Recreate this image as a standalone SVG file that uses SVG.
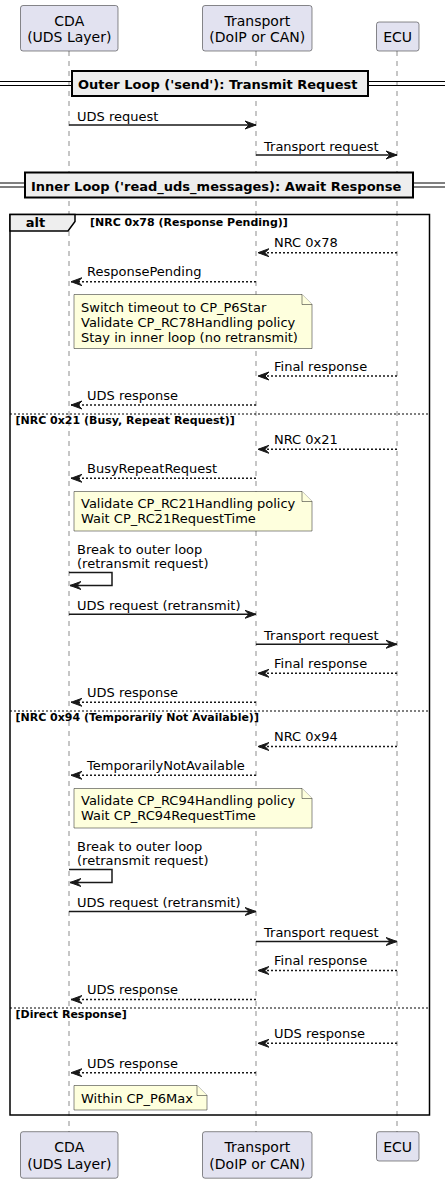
<svg xmlns="http://www.w3.org/2000/svg" width="445" height="1183" viewBox="0 0 445 1183">
<style>
text{font-family:"DejaVu Sans",Verdana,sans-serif;fill:#000}
.t14{font-size:14px}
.t13{font-size:13px}
.b13{font-size:13px;font-weight:bold}
.b11{font-size:11px;font-weight:bold}
.part{fill:#E2E2F0;stroke:#181818;stroke-width:0.5}
.life{stroke:#181818;stroke-width:0.5;stroke-dasharray:5,5;fill:none}
.msg{stroke:#181818;stroke-width:1.5;fill:none;marker-end:url(#ah)}
.dot{stroke-dasharray:2,2}
.note{fill:#FEFFDD;stroke:#181818;stroke-width:0.5}
.div{fill:#EEEEEE;stroke:#000;stroke-width:2}
.dline{stroke:#000;stroke-width:1;fill:none}
.frame{fill:none;stroke:#000;stroke-width:1.5}
.tab{fill:#EEEEEE;stroke:#000;stroke-width:1.5}
.sep{stroke:#000;stroke-width:1;stroke-dasharray:2,2;fill:none}
</style>
<defs>
<marker id="ah" viewBox="0 0 12 10" refX="11" refY="5" markerWidth="12" markerHeight="10" markerUnits="userSpaceOnUse" orient="auto">
<path d="M0,1 L11,5 L0,9 L4,5 Z" fill="#181818" stroke="#181818" stroke-width="1"/>
</marker>
</defs>
<rect width="445" height="1183" fill="#FFFFFF"/>
<g id="lifelines">
<line class="life" x1="69" y1="51" x2="69" y2="1132"/>
<line class="life" x1="256" y1="51" x2="256" y2="1132"/>
<line class="life" x1="397" y1="51" x2="397" y2="1132"/>
</g>
<g id="p-cda-top"><rect class="part" x="20.5" y="5.5" width="97.5" height="45.5" rx="2.5"/><text class="t14" x="69.3" y="25.5" text-anchor="middle">CDA</text><text class="t14" x="69.3" y="41.8" text-anchor="middle">(UDS Layer)</text></g>
<g id="p-transport-top"><rect class="part" x="202.5" y="5.5" width="109.5" height="45.5" rx="2.5"/><text class="t14" x="257.3" y="25.5" text-anchor="middle">Transport</text><text class="t14" x="257.3" y="41.8" text-anchor="middle">(DoIP or CAN)</text></g>
<g id="p-ecu-top"><rect class="part" x="376.5" y="22" width="42.5" height="29" rx="2.5"/><text class="t14" x="397.7" y="42" text-anchor="middle">ECU</text></g>
<g id="p-cda-bottom"><rect class="part" x="20.5" y="1131.7" width="97.5" height="46.5" rx="2.5"/><text class="t14" x="69.3" y="1152.3" text-anchor="middle">CDA</text><text class="t14" x="69.3" y="1168.5" text-anchor="middle">(UDS Layer)</text></g>
<g id="p-transport-bottom"><rect class="part" x="202.5" y="1131.7" width="109.5" height="46.5" rx="2.5"/><text class="t14" x="257.3" y="1152.3" text-anchor="middle">Transport</text><text class="t14" x="257.3" y="1168.5" text-anchor="middle">(DoIP or CAN)</text></g>
<g id="p-ecu-bottom"><rect class="part" x="376.5" y="1131.7" width="42.5" height="29.3" rx="2.5"/><text class="t14" x="397.7" y="1152" text-anchor="middle">ECU</text></g>
<g id="divider-outer">
<line class="dline" x1="0" y1="81.5" x2="445" y2="81.5"/>
<line class="dline" x1="0" y1="85.5" x2="445" y2="85.5"/>
<rect class="div" x="72" y="71" width="296" height="25"/>
<text class="b13" x="78" y="88.5">Outer Loop ('send'): Transmit Request</text>
</g>
<g id="divider-inner">
<line class="dline" x1="0" y1="183" x2="445" y2="183"/>
<line class="dline" x1="0" y1="187" x2="445" y2="187"/>
<rect class="div" x="25" y="172.5" width="388" height="25"/>
<text class="b13" x="31" y="190.5">Inner Loop ('read_uds_messages): Await Response</text>
</g>
<g id="alt-frame">
<rect class="frame" x="10" y="214.5" width="419.5" height="900.5"/>
<path class="tab" d="M10,214.5 H75 V221.5 L68,231 H10 Z"/>
<text class="b13" x="25.7" y="226.5">alt</text>
<text class="b11" x="90" y="226">[NRC 0x78 (Response Pending)]</text>
<line class="sep" x1="10" y1="414" x2="429.5" y2="414"/>
<text class="b11" x="15.5" y="424">[NRC 0x21 (Busy, Repeat Request)]</text>
<line class="sep" x1="10" y1="711" x2="429.5" y2="711"/>
<text class="b11" x="15.5" y="721">[NRC 0x94 (Temporarily Not Available)]</text>
<line class="sep" x1="10" y1="1008" x2="429.5" y2="1008"/>
<text class="b11" x="15.5" y="1018">[Direct Response]</text>
</g>
<g id="note-rc78">
<path class="note" d="M74,294.5 H302 L312,304.5 V348.5 H74 Z"/>
<path class="note" d="M302,294.5 V304.5 H312"/>
<text class="t13" x="81" y="311.5">Switch timeout to CP_P6Star</text>
<text class="t13" x="81" y="326.5">Validate CP_RC78Handling policy</text>
<text class="t13" x="81" y="341.5">Stay in inner loop (no retransmit)</text>
</g>
<g id="note-rc21">
<path class="note" d="M74,491.5 H302 L312,501.5 V531 H74 Z"/>
<path class="note" d="M302,491.5 V501.5 H312"/>
<text class="t13" x="81" y="508">Validate CP_RC21Handling policy</text>
<text class="t13" x="81" y="523">Wait CP_RC21RequestTime</text>
</g>
<g id="note-rc94">
<path class="note" d="M74,788.5 H302 L312,798.5 V828 H74 Z"/>
<path class="note" d="M302,788.5 V798.5 H312"/>
<text class="t13" x="81" y="805">Validate CP_RC94Handling policy</text>
<text class="t13" x="81" y="820">Wait CP_RC94RequestTime</text>
</g>
<g id="note-p6max">
<path class="note" d="M74,1085.5 H197 L207,1095.5 V1110 H74 Z"/>
<path class="note" d="M197,1085.5 V1095.5 H207"/>
<text class="t13" x="81" y="1103">Within CP_P6Max</text>
</g>
<g id="connectors">
<path class="msg" d="M69,125 H256"/>
<path class="msg" d="M256,155 H397"/>
<path class="msg dot" d="M397,252.7 H258"/>
<path class="msg dot" d="M256,281.7 H71"/>
<path class="msg dot" d="M397,376 H258"/>
<path class="msg dot" d="M256,405 H71"/>
<path class="msg dot" d="M397,449.3 H258"/>
<path class="msg dot" d="M256,478.3 H71"/>
<path class="msg" d="M69,572.5 H112 V585.5 H70"/>
<path class="msg" d="M69,614.3 H256"/>
<path class="msg" d="M256,644.3 H397"/>
<path class="msg dot" d="M397,673.3 H258"/>
<path class="msg dot" d="M256,702.3 H71"/>
<path class="msg dot" d="M397,746.5 H258"/>
<path class="msg dot" d="M256,775.3 H71"/>
<path class="msg" d="M69,869.5 H112 V882.5 H70"/>
<path class="msg" d="M69,911.5 H256"/>
<path class="msg" d="M256,941.5 H397"/>
<path class="msg dot" d="M397,970.5 H258"/>
<path class="msg dot" d="M256,999.5 H71"/>
<path class="msg dot" d="M397,1043.3 H258"/>
<path class="msg dot" d="M256,1072.7 H71"/>
</g>
<g id="labels">
<text class="t13" x="77" y="120.5">UDS request</text>
<text class="t13" x="264" y="150.5">Transport request</text>
<text class="t13" x="274" y="247">NRC 0x78</text>
<text class="t13" x="87" y="276">ResponsePending</text>
<text class="t13" x="274" y="370.5">Final response</text>
<text class="t13" x="87" y="399.5">UDS response</text>
<text class="t13" x="274" y="444">NRC 0x21</text>
<text class="t13" x="87" y="473">BusyRepeatRequest</text>
<text class="t13" x="77" y="553.5">Break to outer loop</text>
<text class="t13" x="77" y="568">(retransmit request)</text>
<text class="t13" x="77" y="609.5">UDS request (retransmit)</text>
<text class="t13" x="264" y="639.5">Transport request</text>
<text class="t13" x="274" y="668">Final response</text>
<text class="t13" x="87" y="697">UDS response</text>
<text class="t13" x="274" y="741">NRC 0x94</text>
<text class="t13" x="87" y="770">TemporarilyNotAvailable</text>
<text class="t13" x="77" y="850.5">Break to outer loop</text>
<text class="t13" x="77" y="865">(retransmit request)</text>
<text class="t13" x="77" y="906.5">UDS request (retransmit)</text>
<text class="t13" x="264" y="936.5">Transport request</text>
<text class="t13" x="274" y="965">Final response</text>
<text class="t13" x="87" y="994">UDS response</text>
<text class="t13" x="274" y="1038">UDS response</text>
<text class="t13" x="87" y="1067.5">UDS response</text>
</g>
</svg>
